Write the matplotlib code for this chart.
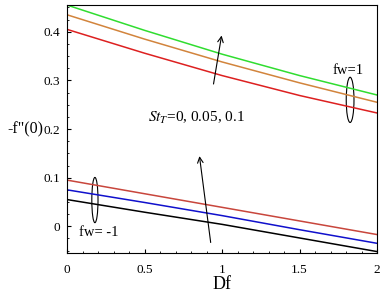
import numpy as np
import matplotlib.pyplot as plt
from matplotlib.patches import Ellipse

plt.rcParams['font.family'] = ['Liberation Serif', 'DejaVu Serif']
plt.rcParams['mathtext.fontset'] = 'stix'

# Df values
df = [0, 0.5, 1, 1.5, 2]

# fw = 1, St_T = 0, 0.05, 0.1
up_st0 = [0.405, 0.356, 0.310, 0.269, 0.233]
up_st05 = [0.435, 0.385, 0.338, 0.295, 0.255]
up_st1 = [0.455, 0.403, 0.354, 0.310, 0.270]

# fw = -1, St_T = 0, 0.05, 0.1
lo_st0 = [0.055, 0.029, 0.004, -0.024, -0.052]
lo_st05 = [0.075, 0.049, 0.022, -0.007, -0.035]
lo_st1 = [0.095, 0.067, 0.039, 0.011, -0.017]

fig = plt.figure(figsize=(3.84, 2.97), dpi=100)
ax = fig.add_axes([0.1745, 0.148, 0.8075, 0.835])

ax.plot(df, up_st0, color='#dd2020', lw=1.1)
ax.plot(df, up_st05, color='#d2843c', lw=1.1)
ax.plot(df, up_st1, color='#30dd30', lw=1.1)
ax.plot(df, lo_st0, color='black', lw=1.1)
ax.plot(df, lo_st05, color='#1010cc', lw=1.1)
ax.plot(df, lo_st1, color='#c8463c', lw=1.1)

ax.set_xlim(0, 2)
ax.set_ylim(-0.055, 0.455)
ax.set_xticks([0, 0.5, 1, 1.5, 2])
ax.set_xticklabels(['0', '0.5', '1', '1.5', '2'])
ax.set_yticks([0, 0.1, 0.2, 0.3, 0.4])
ax.set_yticklabels(['0', '0.1', '0.2', '0.3', '0.4'])
ax.set_xticks(np.arange(0, 2.01, 0.1), minor=True)
ax.set_yticks(np.arange(-0.05, 0.451, 0.025), minor=True)
ax.tick_params(direction='in', labelsize=9.5, length=3)
ax.tick_params(axis='x', pad=8)
ax.tick_params(axis='y', pad=5)
ax.tick_params(which='minor', direction='in', length=1.5)

ax.set_xlabel('Df', fontsize=13, labelpad=0)
ax.set_ylabel('-f"(0)', fontsize=11.5, rotation=0, ha='right', va='center')
ax.yaxis.set_label_coords(-0.075, 0.5)

# annotations
ax.add_patch(Ellipse((1.826, 0.26), 0.05, 0.093, fill=False, lw=0.8))
ax.add_patch(Ellipse((0.18, 0.054), 0.04, 0.093, fill=False, lw=0.8))
ax.text(1.81, 0.32, 'fw=1', fontsize=10.5, ha='center', va='center')
ax.text(0.077, -0.012, 'fw= -1', fontsize=10.5, ha='left', va='center')
ax.text(0.52, 0.223, r'$St_T$=0, 0.05, 0.1', fontsize=11, ha='left', va='center')
ax.annotate('', xy=(1.0, 0.398), xytext=(0.942, 0.287),
            arrowprops=dict(arrowstyle='->', lw=0.8, color='black'))
ax.annotate('', xy=(0.852, 0.150), xytext=(0.929, -0.039),
            arrowprops=dict(arrowstyle='->', lw=0.8, color='black'))

fig.savefig('out.png', dpi=100)
